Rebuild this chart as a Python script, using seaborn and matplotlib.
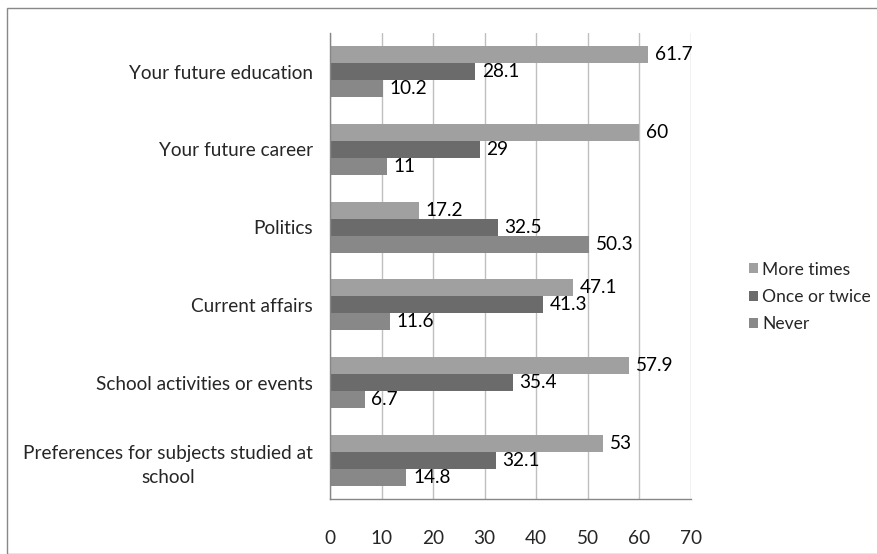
import matplotlib
matplotlib.use("Agg")
import matplotlib.pyplot as plt
import seaborn as sns
import pandas as pd
from matplotlib.patches import Rectangle
from matplotlib.ticker import FixedLocator

categories = ["Your future education", "Your future career", "Politics",
              "Current affairs", "School activities or events",
              "Preferences for subjects studied at\nschool"]
more_times = [61.7, 60, 17.2, 47.1, 57.9, 53]
once_twice = [28.1, 29, 32.5, 41.3, 35.4, 32.1]
never = [10.2, 11, 50.3, 11.6, 6.7, 14.8]
series_names = ["More times", "Once or twice", "Never"]
x_ticks = [0, 10, 20, 30, 40, 50, 60, 70]

rows = []
for name, vals in zip(series_names, [more_times, once_twice, never]):
    for c, v in zip(categories, vals):
        rows.append({"category": c, "series": name, "value": v})
df = pd.DataFrame(rows)

sns.set_style("white")
plt.rcParams['font.family'] = ['Lato', 'DejaVu Sans']
FS = 13.7
LFS = 12.6

fig = plt.figure(figsize=(8.77, 5.54), dpi=100)
ax = fig.add_axes([330/877, 1-499/554, (691-330)/877, (499-33)/554])

colors = ["#A0A0A0", "#6B6B6B", "#888888"]
sns.barplot(data=df, y="category", x="value", hue="series", order=categories,
            hue_order=series_names, palette=colors, width=0.66, ax=ax,
            saturation=1, edgecolor="none", legend=True)

for cont in ax.containers:
    labels = ["{:g}".format(v) for v in cont.datavalues]
    ax.bar_label(cont, labels=labels, padding=5, fontsize=FS, color="black")

ax.set_xlim(0, 70)
ax.set_xticks(x_ticks)
ax.set_xticklabels([str(t) for t in x_ticks], fontsize=FS)
ax.set_ylim(5.5, -0.5)
ax.yaxis.set_minor_locator(FixedLocator([i - 0.5 for i in range(7)]))
ax.tick_params(axis="y", which="major", length=0, labelsize=FS, pad=12.3)
ax.tick_params(axis="y", which="minor", length=6, color="#868686", width=1, direction="out")
ax.tick_params(axis="x", which="major", length=6, color="#868686", width=1, direction="out", pad=16)
for lbl in ax.get_yticklabels():
    lbl.set_multialignment("center")
    lbl.set_linespacing(1.5)
ax.set_xlabel("")
ax.set_ylabel("")
ax.grid(axis="x", color="#BFBFBF", linewidth=1)
ax.set_axisbelow(True)
for s in ["top", "right"]:
    ax.spines[s].set_visible(False)
for s in ["left", "bottom"]:
    ax.spines[s].set_color("#868686")
    ax.spines[s].set_linewidth(1)

leg = ax.legend(loc="center left", bbox_to_anchor=(749/877, 1 - 297/554), bbox_transform=fig.transFigure,
                frameon=False, fontsize=LFS, handlelength=0.5, handleheight=0.5,
                handletextpad=0.25, labelspacing=0.65, borderaxespad=0, borderpad=0)

fig.patches.append(Rectangle((7/877, 0), 1, 1 - 8/554, transform=fig.transFigure,
                             fill=False, edgecolor="#888888", linewidth=1))

fig.savefig("out.png", dpi=100)
